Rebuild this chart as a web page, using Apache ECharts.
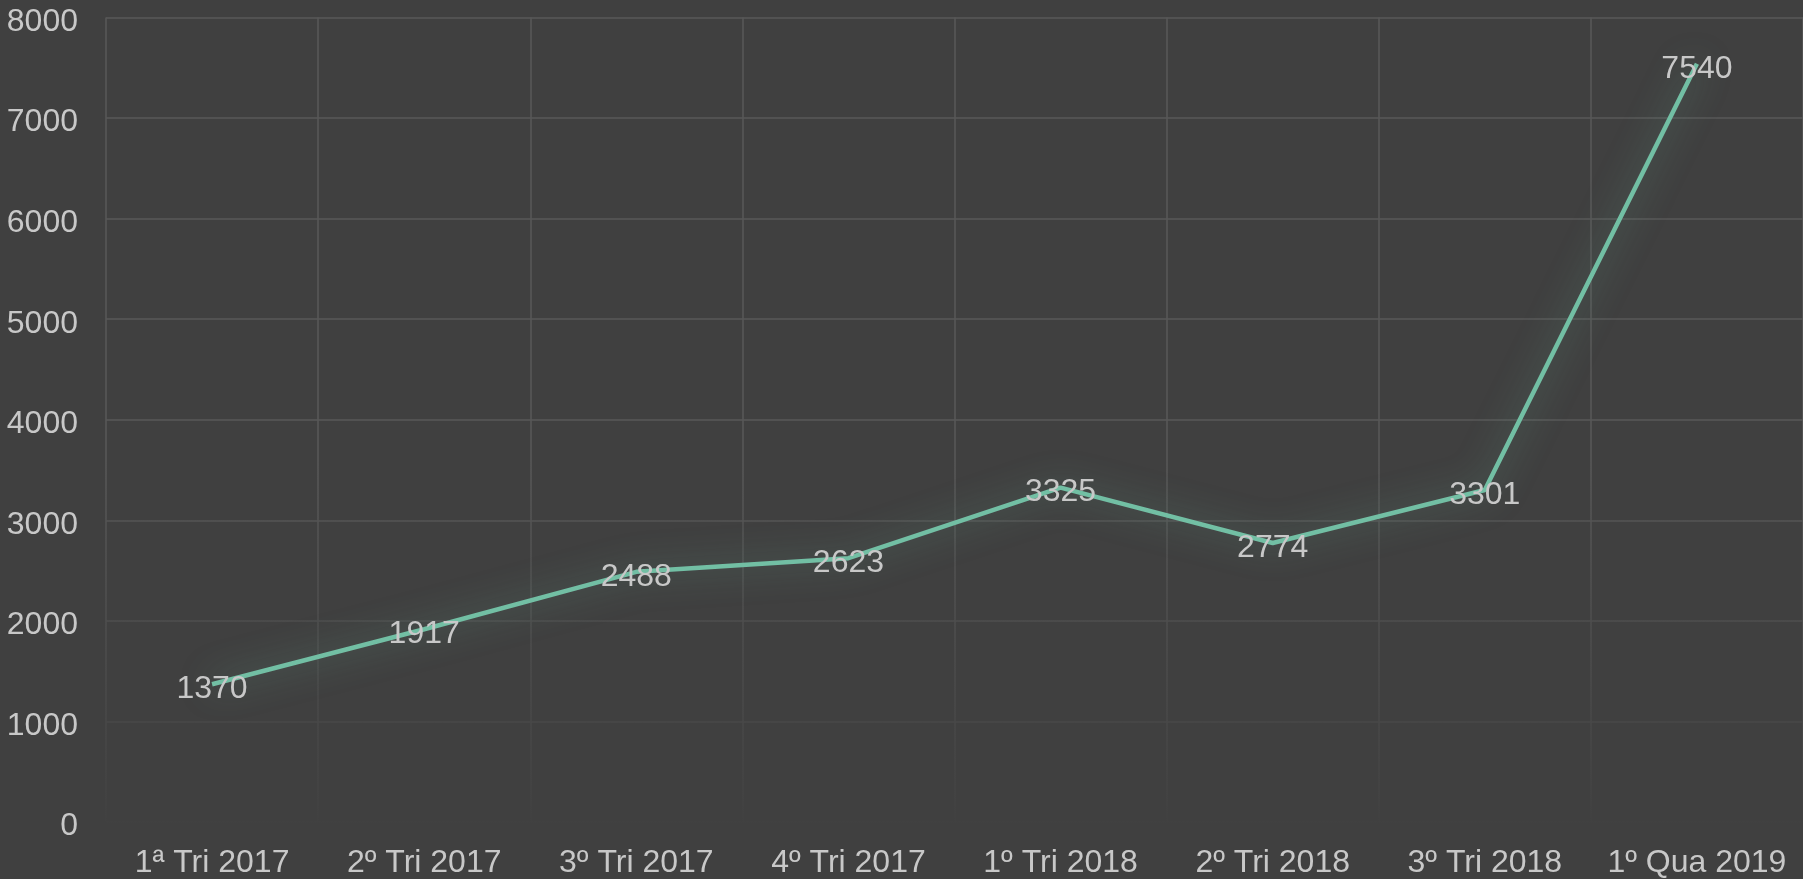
<!DOCTYPE html>
<html lang="pt">
<head>
    <meta charset="utf-8">
    <title>ECharts</title>
    <script src="https://cdn.jsdelivr.net/npm/echarts@6/dist/echarts.min.js"></script>
    <style>
        html, body { margin: 0; padding: 0; background: #404040; }
        #main { width: 1803px; height: 879px; }
    </style>
</head>
<body>
<div id="main"></div>
<script type="text/javascript">
    var categories = ['1ª Tri 2017', '2º Tri 2017', '3º Tri 2017', '4º Tri 2017',
        '1º Tri 2018', '2º Tri 2018', '3º Tri 2018', '1º Qua 2019'];
    var values = [1370, 1917, 2488, 2623, 3325, 2774, 3301, 7540];
    var yTicks = { min: 0, max: 8000, step: 1000 };

    var textColor = '#c8c8c8';
    var gridColor = '#585858';
    var font = 'Liberation Sans, Arial, sans-serif';

    var myChart = echarts.init(document.getElementById('main'));

    var option = {
        backgroundColor: '#404040',
        animation: false,
        grid: {
            left: 106,
            right: 0,
            top: 17.5,
            bottom: 57
        },
        // fade the grid lines out towards the bottom
        graphic: [{
            type: 'rect',
            z: 1,
            silent: true,
            shape: { x: 90, y: 460, width: 1713, height: 370 },
            style: {
                fill: {
                    type: 'linear', x: 0, y: 0, x2: 0, y2: 1,
                    colorStops: [
                        { offset: 0, color: 'rgba(64,64,64,0)' },
                        { offset: 0.9, color: 'rgba(64,64,64,0.85)' },
                        { offset: 1, color: 'rgba(64,64,64,1)' }
                    ]
                }
            }
        }],
        xAxis: {
            type: 'category',
            data: categories,
            boundaryGap: true,
            axisLine: { show: false },
            axisTick: { show: false },
            axisLabel: {
                interval: 0,
                margin: 25,
                color: textColor,
                fontSize: 32,
                fontFamily: font
            },
            splitLine: {
                show: true,
                interval: 0,
                lineStyle: { color: gridColor, width: 1.5 }
            }
        },
        yAxis: {
            type: 'value',
            min: yTicks.min,
            max: yTicks.max,
            interval: yTicks.step,
            axisLine: { show: false },
            axisTick: { show: false },
            axisLabel: {
                margin: 28,
                color: textColor,
                fontSize: 32,
                fontFamily: font,
                formatter: function (v) { return '{t|' + v + '}'; },
                rich: {
                    t: {
                        color: textColor,
                        fontSize: 32,
                        fontFamily: font,
                        padding: [9, 0, 0, 0]
                    }
                }
            },
            splitLine: {
                lineStyle: { color: gridColor, width: 1.5 }
            }
        },
        series: [{
            type: 'line',
            data: values,
            z: 3,
            symbol: 'circle',
            symbolSize: 1,
            showSymbol: true,
            itemStyle: { color: 'rgba(0,0,0,0)' },
            lineStyle: {
                color: '#72bfa4',
                width: 4.5,
                shadowBlur: 32,
                shadowColor: 'rgba(114,191,164,0.55)'
            },
            label: {
                show: true,
                position: 'inside',
                offset: [0, 5],
                color: textColor,
                fontSize: 32,
                fontFamily: font
            }
        }]
    };

    myChart.setOption(option);
</script>
</body>
</html>
